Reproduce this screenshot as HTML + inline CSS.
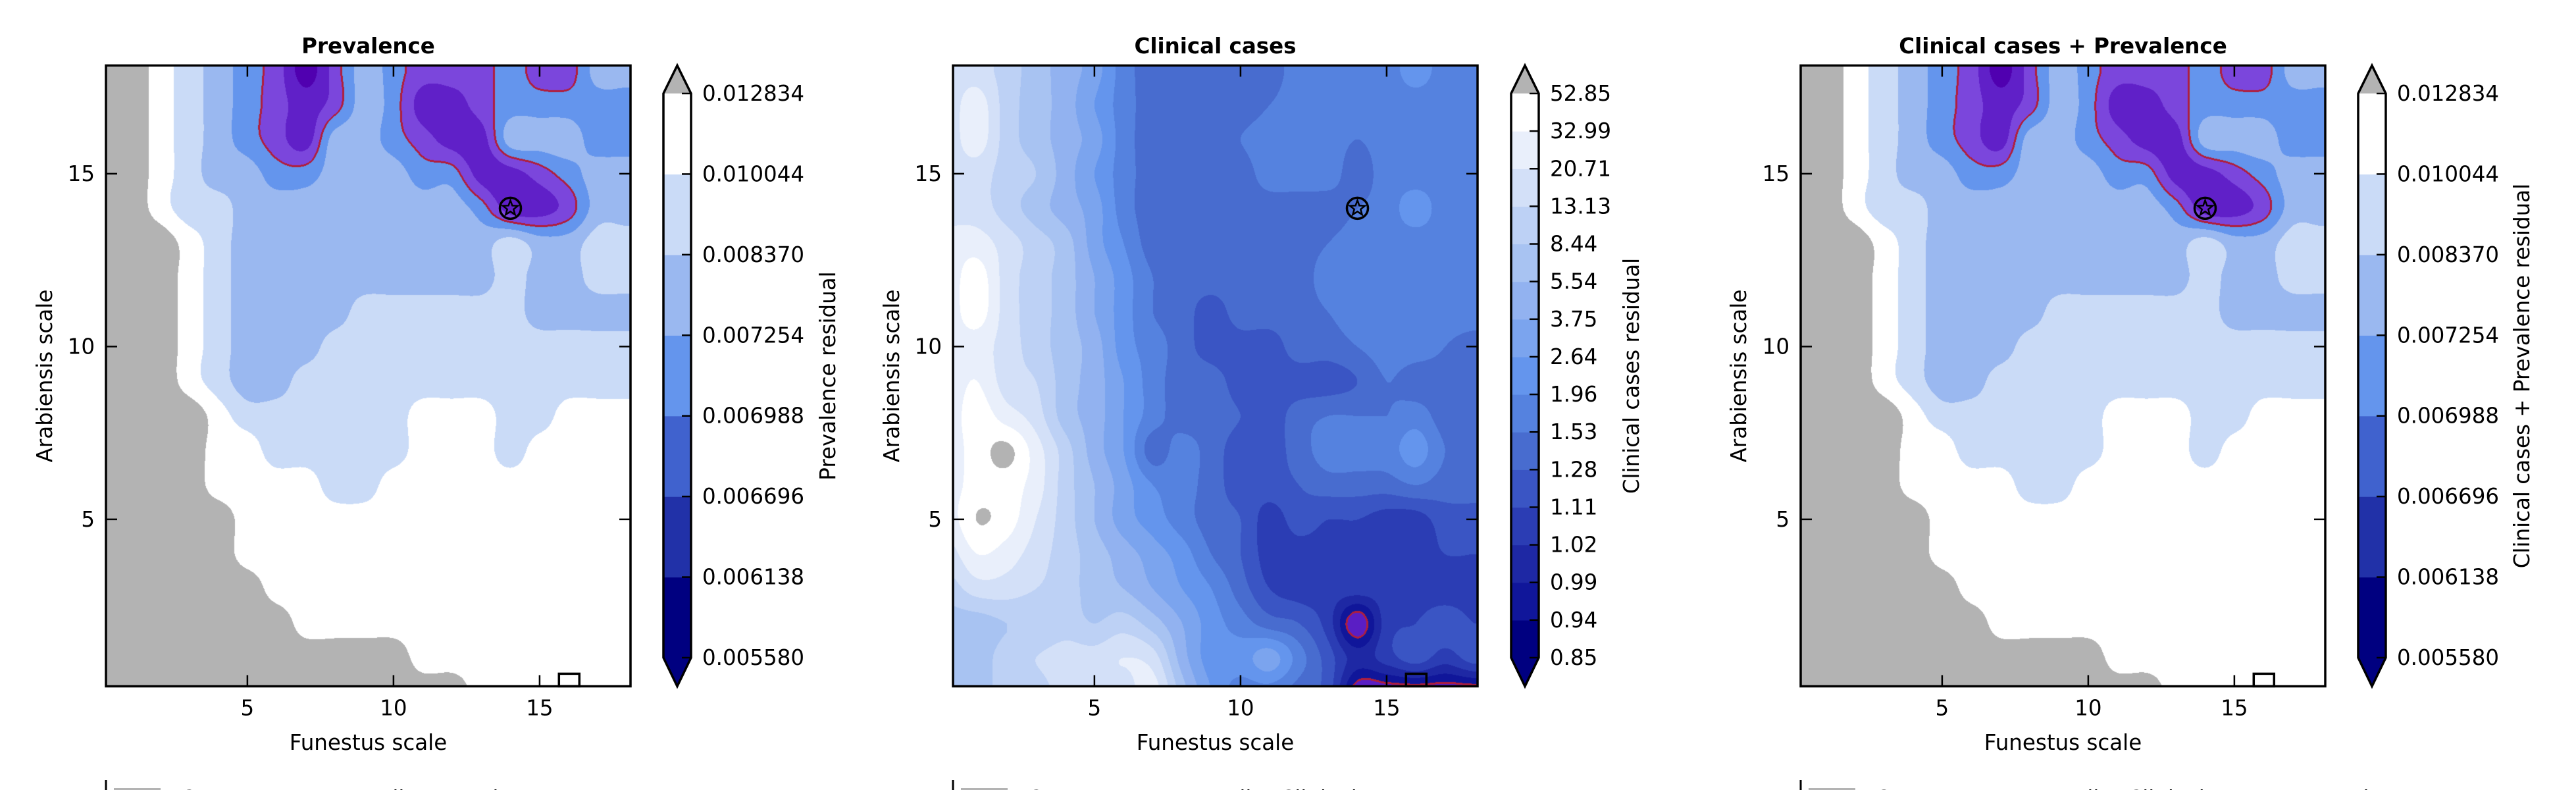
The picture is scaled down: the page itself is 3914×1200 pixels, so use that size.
<!DOCTYPE html>
<html><head><meta charset="utf-8"><style>
html,body{margin:0;padding:0;background:#fff;}
#wrap{position:relative;width:3914px;height:1200px;overflow:hidden;background:#fff;}
canvas{position:absolute;}
svg{position:absolute;left:0;top:0;}
</style></head><body>
<div id="wrap">
<svg id="ov" width="3914" height="1200"></svg>
</div>
<script>
// ---------- DATA ----------
const gridX = [0,1,2,3,4,5,6,7,8,9,10,11,12,13,14,15,16,17,18];
const gridY = [18,17,16,15,14,13,12,11,10,9,8,7,6,5,4,3,2,1,0];
const prevLevels = [0.00558,0.006138,0.006696,0.006988,0.007254,0.00837,0.010044,0.012834];
const prevTickLabels = ["0.005580","0.006138","0.006696","0.006988","0.007254","0.008370","0.010044","0.012834"];
const clinLevels = [0.85,0.94,0.99,1.02,1.11,1.28,1.53,1.96,2.64,3.75,5.54,8.44,13.13,20.71,32.99,52.85];
const clinTickLabels = ["0.85","0.94","0.99","1.02","1.11","1.28","1.53","1.96","2.64","3.75","5.54","8.44","13.13","20.71","32.99","52.85"];
const xTicks = [5,10,15];
const yTicks = [5,10,15];
const markerStar = [14,14];
const markerSquare = [16,0.3];

const prevGrid = [
[0.0148,0.0148,0.01144,0.00921,0.00781,0.00712,0.00684,0.00586,0.00684,0.00781,0.00712,0.00684,0.00684,0.00684,0.00712,0.00684,0.00684,0.00781,0.00781],
[0.0148,0.0148,0.01144,0.00921,0.00781,0.00712,0.00684,0.00642,0.00684,0.00781,0.00712,0.00642,0.00642,0.00684,0.00712,0.00712,0.00712,0.00712,0.00712],
[0.0148,0.0148,0.01144,0.00921,0.00781,0.00712,0.00684,0.00642,0.00781,0.00781,0.00712,0.00684,0.00642,0.00642,0.00781,0.00781,0.00781,0.00712,0.00712],
[0.0148,0.0148,0.01144,0.00921,0.00781,0.00781,0.00712,0.00712,0.00781,0.00781,0.00781,0.00712,0.00712,0.00642,0.00642,0.00684,0.00712,0.00781,0.00781],
[0.0148,0.0148,0.01144,0.00921,0.00921,0.00781,0.00781,0.00781,0.00781,0.00781,0.00781,0.00781,0.00781,0.00712,0.00642,0.00642,0.00684,0.00781,0.00781],
[0.0148,0.0148,0.0148,0.01144,0.00921,0.00781,0.00781,0.00781,0.00781,0.00781,0.00781,0.00781,0.00781,0.00781,0.00921,0.00781,0.00781,0.00921,0.00921],
[0.0148,0.0148,0.0148,0.01144,0.00921,0.00781,0.00781,0.00781,0.00781,0.00781,0.00781,0.00781,0.00781,0.00781,0.00921,0.00781,0.00781,0.00921,0.00921],
[0.0148,0.0148,0.0148,0.01144,0.00921,0.00781,0.00781,0.00781,0.00781,0.00921,0.00921,0.00921,0.00921,0.00921,0.00921,0.00781,0.00781,0.00781,0.00781],
[0.0148,0.0148,0.0148,0.01144,0.00921,0.00781,0.00781,0.00781,0.00921,0.00921,0.00921,0.00921,0.00921,0.00921,0.00921,0.00921,0.00921,0.00921,0.00921],
[0.0148,0.0148,0.0148,0.01144,0.00921,0.00781,0.00781,0.00921,0.00921,0.00921,0.00921,0.00921,0.00921,0.00921,0.00921,0.00921,0.00921,0.00921,0.00921],
[0.0148,0.0148,0.0148,0.0148,0.01144,0.00921,0.00921,0.00921,0.00921,0.00921,0.00921,0.01144,0.01144,0.01144,0.00921,0.00921,0.01144,0.01144,0.01144],
[0.0148,0.0148,0.0148,0.0148,0.01144,0.01144,0.00921,0.00921,0.00921,0.00921,0.00921,0.01144,0.01144,0.01144,0.00921,0.01144,0.01144,0.01144,0.01144],
[0.0148,0.0148,0.0148,0.0148,0.01144,0.01144,0.01144,0.01144,0.00921,0.00921,0.01144,0.01144,0.01144,0.01144,0.01144,0.01144,0.01144,0.01144,0.01144],
[0.0148,0.0148,0.0148,0.0148,0.0148,0.01144,0.01144,0.01144,0.01144,0.01144,0.01144,0.01144,0.01144,0.01144,0.01144,0.01144,0.01144,0.01144,0.01144],
[0.0148,0.0148,0.0148,0.0148,0.0148,0.01144,0.01144,0.01144,0.01144,0.01144,0.01144,0.01144,0.01144,0.01144,0.01144,0.01144,0.01144,0.01144,0.01144],
[0.0148,0.0148,0.0148,0.0148,0.0148,0.0148,0.01144,0.01144,0.01144,0.01144,0.01144,0.01144,0.01144,0.01144,0.01144,0.01144,0.01144,0.01144,0.01144],
[0.0148,0.0148,0.0148,0.0148,0.0148,0.0148,0.0148,0.01144,0.01144,0.01144,0.01144,0.01144,0.01144,0.01144,0.01144,0.01144,0.01144,0.01144,0.01144],
[0.0148,0.0148,0.0148,0.0148,0.0148,0.0148,0.0148,0.0148,0.0148,0.0148,0.0148,0.01144,0.01144,0.01144,0.01144,0.01144,0.01144,0.01144,0.01144],
[0.0148,0.0148,0.0148,0.0148,0.0148,0.0148,0.0148,0.0148,0.0148,0.0148,0.0148,0.0148,0.0148,0.01144,0.01144,0.01144,0.01144,0.01144,0.01144]
];

const comboGrid = [
[0.0148,0.0148,0.01144,0.00921,0.00781,0.00712,0.00684,0.00586,0.00684,0.00781,0.00712,0.00684,0.00684,0.00684,0.00712,0.00684,0.00684,0.00781,0.00781],
[0.0148,0.0148,0.01144,0.00921,0.00781,0.00712,0.00684,0.00642,0.00684,0.00781,0.00712,0.00642,0.00642,0.00684,0.00712,0.00712,0.00712,0.00712,0.00712],
[0.0148,0.0148,0.01144,0.00921,0.00781,0.00712,0.00684,0.00642,0.00781,0.00781,0.00712,0.00684,0.00642,0.00642,0.00781,0.00781,0.00781,0.00712,0.00712],
[0.0148,0.0148,0.01144,0.00921,0.00781,0.00781,0.00712,0.00712,0.00781,0.00781,0.00781,0.00712,0.00712,0.00642,0.00642,0.00684,0.00712,0.00781,0.00781],
[0.0148,0.0148,0.01144,0.00921,0.00921,0.00781,0.00781,0.00781,0.00781,0.00781,0.00781,0.00781,0.00781,0.00712,0.00642,0.00642,0.00684,0.00781,0.00781],
[0.0148,0.0148,0.0148,0.01144,0.00921,0.00781,0.00781,0.00781,0.00781,0.00781,0.00781,0.00781,0.00781,0.00781,0.00921,0.00781,0.00781,0.00921,0.00921],
[0.0148,0.0148,0.0148,0.01144,0.00921,0.00781,0.00781,0.00781,0.00781,0.00781,0.00781,0.00781,0.00781,0.00781,0.00921,0.00781,0.00781,0.00921,0.00921],
[0.0148,0.0148,0.0148,0.01144,0.00921,0.00781,0.00781,0.00781,0.00781,0.00921,0.00921,0.00921,0.00921,0.00921,0.00921,0.00781,0.00781,0.00781,0.00781],
[0.0148,0.0148,0.0148,0.01144,0.00921,0.00781,0.00781,0.00781,0.00921,0.00921,0.00921,0.00921,0.00921,0.00921,0.00921,0.00921,0.00921,0.00921,0.00921],
[0.0148,0.0148,0.0148,0.01144,0.00921,0.00781,0.00781,0.00921,0.00921,0.00921,0.00921,0.00921,0.00921,0.00921,0.00921,0.00921,0.00921,0.00921,0.00921],
[0.0148,0.0148,0.0148,0.0148,0.01144,0.00921,0.00921,0.00921,0.00921,0.00921,0.00921,0.01144,0.01144,0.01144,0.00921,0.00921,0.01144,0.01144,0.01144],
[0.0148,0.0148,0.0148,0.0148,0.01144,0.01144,0.00921,0.00921,0.00921,0.00921,0.00921,0.01144,0.01144,0.01144,0.00921,0.01144,0.01144,0.01144,0.01144],
[0.0148,0.0148,0.0148,0.0148,0.01144,0.01144,0.01144,0.01144,0.00921,0.00921,0.01144,0.01144,0.01144,0.01144,0.01144,0.01144,0.01144,0.01144,0.01144],
[0.0148,0.0148,0.0148,0.0148,0.0148,0.01144,0.01144,0.01144,0.01144,0.01144,0.01144,0.01144,0.01144,0.01144,0.01144,0.01144,0.01144,0.01144,0.01144],
[0.0148,0.0148,0.0148,0.0148,0.0148,0.01144,0.01144,0.01144,0.01144,0.01144,0.01144,0.01144,0.01144,0.01144,0.01144,0.01144,0.01144,0.01144,0.01144],
[0.0148,0.0148,0.0148,0.0148,0.0148,0.0148,0.01144,0.01144,0.01144,0.01144,0.01144,0.01144,0.01144,0.01144,0.01144,0.01144,0.01144,0.01144,0.01144],
[0.0148,0.0148,0.0148,0.0148,0.0148,0.0148,0.0148,0.01144,0.01144,0.01144,0.01144,0.01144,0.01144,0.01144,0.01144,0.01144,0.01144,0.01144,0.01144],
[0.0148,0.0148,0.0148,0.0148,0.0148,0.0148,0.0148,0.0148,0.0148,0.0148,0.0148,0.01144,0.01144,0.01144,0.01144,0.01144,0.01144,0.01144,0.01144],
[0.0148,0.0148,0.0148,0.0148,0.0148,0.0148,0.0148,0.0148,0.0148,0.0148,0.0148,0.0148,0.0148,0.01144,0.01144,0.01144,0.01144,0.01144,0.01144]
];

const clinGrid = [
[16.92,16.92,10.79,6.99,4.645,3.195,1.745,1.405,1.405,1.405,1.405,1.405,1.745,1.745,1.745,1.745,2.30,1.745,1.745],
[16.92,26.85,10.79,6.99,4.645,2.64,1.745,1.405,1.405,1.405,1.405,1.53,1.745,1.745,1.745,1.745,1.745,1.745,1.745],
[16.92,26.85,10.79,6.99,4.645,3.195,1.745,1.405,1.405,1.405,1.53,1.745,1.745,1.745,1.53,1.745,1.745,1.745,1.745],
[16.92,16.92,10.79,8.44,4.645,2.64,1.745,1.405,1.405,1.405,1.405,1.745,1.745,1.745,1.405,1.745,1.745,1.745,1.745],
[16.92,16.92,10.79,6.99,4.645,3.195,1.745,1.405,1.405,1.405,1.405,1.405,1.405,1.405,1.53,1.745,2.30,1.745,1.745],
[26.85,26.85,16.92,10.79,6.99,3.195,1.96,1.405,1.405,1.405,1.405,1.405,1.405,1.53,1.745,1.745,1.745,1.745,1.745],
[26.85,42.92,16.92,10.79,6.99,3.75,2.30,1.53,1.405,1.405,1.405,1.405,1.405,1.745,1.745,1.745,1.745,1.745,1.745],
[26.85,42.92,16.92,10.79,6.99,3.75,2.30,1.53,1.405,1.195,1.405,1.405,1.405,1.53,1.745,1.745,1.745,1.745,1.745],
[26.85,26.85,16.92,10.79,6.99,4.645,2.30,1.745,1.405,1.195,1.195,1.195,1.405,1.405,1.53,1.745,1.745,1.53,1.405],
[26.85,32.99,16.92,13.13,6.99,4.645,2.64,1.745,1.405,1.405,1.195,1.195,1.195,1.195,1.28,1.53,1.405,1.405,1.28],
[26.85,42.92,26.85,16.92,6.99,4.645,2.64,1.745,1.405,1.405,1.28,1.195,1.405,1.53,1.53,1.53,1.745,1.405,1.405],
[26.85,42.92,58.0,26.85,10.79,4.645,2.64,1.405,1.745,1.405,1.195,1.195,1.405,1.745,1.745,1.745,2.30,1.53,1.405],
[26.85,42.92,42.92,26.85,10.79,5.54,3.195,1.96,1.745,1.405,1.195,1.195,1.28,1.405,1.405,1.405,1.53,1.405,1.405],
[26.85,53.5,42.92,20.71,10.79,5.54,3.195,2.30,1.745,1.405,1.28,1.065,1.195,1.11,1.11,1.065,1.065,1.195,1.195],
[16.92,32.99,26.85,16.92,10.79,6.99,4.645,3.195,2.30,1.53,1.28,1.065,1.065,1.065,1.065,1.065,1.065,1.11,1.11],
[10.79,16.92,16.92,13.13,10.79,6.99,5.54,3.75,2.64,1.96,1.405,1.11,1.065,1.065,1.065,1.065,1.065,1.065,1.065],
[6.99,6.99,8.44,8.44,10.79,8.44,10.79,6.99,3.75,2.30,1.745,1.405,1.28,1.065,0.87,1.065,1.11,1.195,1.11],
[6.99,6.99,10.79,13.13,16.92,16.92,20.71,16.92,4.645,2.30,2.30,3.195,1.745,1.195,1.005,1.065,1.195,1.065,1.195],
[6.99,6.99,10.79,10.79,16.92,20.71,16.92,26.85,6.99,2.64,1.745,1.745,1.405,1.195,0.877,0.877,0.877,0.877,0.877]
];

// ---------- STYLE / LAYOUT ----------
const prevColors = ['#000080','#2131A8','#4062CE','#6495ED','#9AB8F0','#CADBF7','#FFFFFF'];
const prevMapColors = ['#5000B0','#6020C8','#7B46DC','#6495ED','#9AB8F0','#CADBF7','#FFFFFF'];
const clinColors = ['#000080','#10169A','#1E28A4','#2B3DB4','#3A55C4','#486CCF','#5582DF','#6495ED','#7BA4EE','#92B2F0','#A8C3F2','#BDD1F5','#D3E0F8','#E9EFFB','#FFFFFF'];
const clinMapColors = ['#5A1EC4','#10169A','#1E28A4','#2B3DB4','#3A55C4','#486CCF','#5582DF','#6495ED','#7BA4EE','#92B2F0','#A8C3F2','#BDD1F5','#D3E0F8','#E9EFFB','#FFFFFF'];
const NS='http://www.w3.org/2000/svg';
const FONT='"DejaVu Sans","Liberation Sans",sans-serif';
const XMIN=0.16, XMAX=18.1, YMIN=0.17, YMAX=18.13, SX=44.4, SY=52.5, TOP=99.5;
const AW=Math.round((XMAX-XMIN)*SX), AH=Math.round((YMAX-YMIN)*SY);
const ov=document.getElementById('ov');
const wrap=document.getElementById('wrap');

function toIdx(v,L){
  const n=L.length;
  if(v<L[0]) return (v-L[0])/(L[1]-L[0]);
  for(let i=0;i<n-1;i++){ if(v<L[i+1]) return i+(v-L[i])/(L[i+1]-L[i]); }
  return n-1+(v-L[n-1])/(L[n-1]-L[n-2]);
}
function mk(tag,parent,attrs){const e=document.createElementNS(NS,tag);for(const k in attrs)e.setAttribute(k,attrs[k]);parent.appendChild(e);return e;}
function cr(p0,p1,p2,p3,t){
  return p1+0.5*t*(p2-p0+t*(2*p0-5*p1+4*p2-p3+t*(3*(p1-p2)+p3-p0)));
}

function drawPanel(p){
  const left=p.left;
  const xs=x=>left+(x-XMIN)*SX;
  const ys=y=>TOP+(YMAX-y)*SY;
  const cv=document.createElement('canvas');
  
  
  cv.width=AW; cv.height=AH;
  cv.style.left=left+'px'; cv.style.top=TOP+'px';
  wrap.insertBefore(cv, ov);
  const ctx=cv.getContext('2d');
  const img=ctx.createImageData(AW,AH);
  const G=p.grid.map(r=>r.map(v=>toIdx(v,p.levels)));
  const nb=p.levels.length-1;
  const idxBuf=new Float32Array(AW*AH);
  const rows=gridY.length, cols=gridX.length;
  const gv=(r,c)=>G[Math.max(0,Math.min(rows-1,r))][Math.max(0,Math.min(cols-1,c))];
  for(let py=0;py<AH;py++){
    const y=YMAX-(py+0.5)/SY;
    let gr=(gridY[0]-y); gr=Math.max(0,Math.min(rows-1.0001,gr));
    const r0=Math.floor(gr), fr=gr-r0;
    for(let px=0;px<AW;px++){
      const x=XMIN+(px+0.5)/SX;
      let gc=x-gridX[0]; gc=Math.max(0,Math.min(cols-1.0001,gc));
      const c0=Math.floor(gc), fc=gc-c0;
      const rv=[];
      for(let k=-1;k<=2;k++){
        rv.push(cr(gv(r0+k,c0-1),gv(r0+k,c0),gv(r0+k,c0+1),gv(r0+k,c0+2),fc));
      }
      let v=cr(rv[0],rv[1],rv[2],rv[3],fr);
      const a=gv(r0,c0),b=gv(r0,c0+1),c=gv(r0+1,c0),d=gv(r0+1,c0+1);
      const mn=Math.min(a,b,c,d), mx=Math.max(a,b,c,d);
      if(v<mn)v=mn; if(v>mx)v=mx;
      idxBuf[py*AW+px]=v;
    }
  }
  const hex=h=>[parseInt(h.substr(1,2),16),parseInt(h.substr(3,2),16),parseInt(h.substr(5,2),16)];
  const cols2=p.mapColors.map(hex);
  const gray=hex('#B3B3B3'), low=hex(p.lowColor), red=hex('#B01E3C');
  const T=p.redThr;
  const nbrs=[[1,0],[0,1],[-1,0],[0,-1],[2,0],[0,2]];
  for(let py=0;py<AH;py++){
    for(let px=0;px<AW;px++){
      const i=py*AW+px, v=idxBuf[i];
      let c;
      if(v>=nb) c=gray; else if(v<0) c=low; else c=cols2[Math.floor(v)];
      const b=v<T;
      let edge=false;
      for(const [dx,dy] of nbrs){
        const qx=px+dx, qy=py+dy;
        if(qx<0||qy<0||qx>=AW||qy>=AH) continue;
        if((idxBuf[qy*AW+qx]<T)!==b){edge=true;break;}
      }
      if(edge) c=red;
      img.data[i*4]=c[0];img.data[i*4+1]=c[1];img.data[i*4+2]=c[2];img.data[i*4+3]=255;
    }
  }
  ctx.putImageData(img,0,0);

  const g=mk('g',ov,{});
  
  
  const sx=xs(markerStar[0]), sy=ys(markerStar[1]);
  const circ=mk('circle',g,{cx:sx,cy:sy,r:16,fill:'none',stroke:'#000','stroke-width':3.5});
  
  
  let pts=[];
  for(let k=0;k<10;k++){const a=-Math.PI/2+k*Math.PI/5, r=k%2?5:12;pts.push((sx+r*Math.cos(a)).toFixed(1)+','+(sy+r*Math.sin(a)).toFixed(1));}
  const star=mk('polygon',g,{points:pts.join(' '),fill:'none',stroke:'#000','stroke-width':2.5});
  
  
  const sq=mk('rect',g,{x:xs(markerSquare[0])-15,y:ys(YMIN)-19,width:31,height:19,fill:'none',stroke:'#000','stroke-width':3.5});
  
  
  const frame=mk('rect',g,{x:left,y:TOP,width:AW,height:AH,fill:'none',stroke:'#000','stroke-width':3.5});
  
  
  for(const t of xTicks){
    const X=xs(t);
    const tk=mk('path',g,{d:`M${X},${TOP+AH}v-17M${X},${TOP}v17`,stroke:'#000','stroke-width':2.5});
    
    
    const tl=mk('text',g,{x:X,y:TOP+AH+44,'text-anchor':'middle','font-size':32.5,'font-family':FONT});
    tl.textContent=String(t);
    
    
  }
  for(const t of yTicks){
    const Y=ys(t);
    const tk=mk('path',g,{d:`M${left},${Y}h17M${left+AW},${Y}h-17`,stroke:'#000','stroke-width':2.5});
    
    
    const tl=mk('text',g,{x:left-17,y:Y+11,'text-anchor':'end','font-size':32.5,'font-family':FONT});
    tl.textContent=String(t);
    
    
  }
  const ttl=mk('text',g,{x:left+AW/2,y:81,'text-anchor':'middle','font-size':32.5,'font-weight':'bold','font-family':FONT});
  ttl.textContent=p.title;
  
  
  const xl=mk('text',g,{x:left+AW/2,y:1139,'text-anchor':'middle','font-size':32.5,'font-family':FONT});
  xl.textContent='Funestus scale';
  
  
  const yl=mk('text',g,{x:0,y:0,'text-anchor':'middle','font-size':32.5,'font-family':FONT,transform:`translate(${p.ylabX+11},571) rotate(-90)`});
  yl.textContent='Arabiensis scale';
  
  

  const cb=mk('g',g,{});
  
  
  const cx0=p.cbX, cw=42, ct=142, cbot=999, n=p.levels.length-1, bh=(cbot-ct)/n;
  for(let i=0;i<n;i++){
    const r=mk('rect',cb,{x:cx0,y:cbot-(i+1)*bh,width:cw,height:bh+0.6,fill:p.cbColors[i]});
    
    
  }
  const tri1=mk('polygon',cb,{points:`${cx0},${ct} ${cx0+cw/2},${TOP} ${cx0+cw},${ct}`,fill:'#B3B3B3'});
  
  
  const tri2=mk('polygon',cb,{points:`${cx0},${cbot} ${cx0+cw/2},${TOP+AH} ${cx0+cw},${cbot}`,fill:'#000080'});
  
  
  const ol=mk('polygon',cb,{points:`${cx0},${ct} ${cx0+cw/2},${TOP} ${cx0+cw},${ct} ${cx0+cw},${cbot} ${cx0+cw/2},${TOP+AH} ${cx0},${cbot}`,fill:'none',stroke:'#000','stroke-width':3.5});
  
  
  for(let i=0;i<=n;i++){
    const Y=cbot-i*bh;
    const tk=mk('path',cb,{d:`M${cx0+cw},${Y}h-14`,stroke:'#000','stroke-width':2.5});
    
    
    const tl=mk('text',cb,{x:cx0+cw+17,y:Y+11,'font-size':32.5,'font-family':FONT});
    tl.textContent=p.tickLabels[i];
    
    
  }
  const cl=mk('text',cb,{x:0,y:0,'text-anchor':'middle','font-size':32.5,'font-family':FONT,transform:`translate(${p.cbLabX+11},571) rotate(-90)`});
  cl.textContent=p.cbLabel;
  
  

  const lg=mk('g',g,{});
  
  
  mk('path',lg,{d:`M${left},1185V1200`,stroke:'#000','stroke-width':3});
  mk('rect',lg,{x:left+12,y:1197,width:71,height:6,fill:'#B3B3B3'});
  const lt=mk('text',lg,{x:left+113,y:1224,'font-size':32.5,'font-family':FONT});
  lt.textContent=p.legend;
  
  
}

drawPanel({key:'prevalence',left:161,grid:prevGrid,levels:prevLevels,tickLabels:prevTickLabels,mapColors:prevMapColors,cbColors:prevColors,lowColor:'#4800A8',redThr:3,title:'Prevalence',ylabX:68,cbX:1008,cbLabX:1258,cbLabel:'Prevalence residual',legend:'Cut-Funestus-mortality-Prevalence'});
drawPanel({key:'clinical',left:1448,grid:clinGrid,levels:clinLevels,tickLabels:clinTickLabels,mapColors:clinMapColors,cbColors:clinColors,lowColor:'#4800A8',redThr:1,title:'Clinical cases',ylabX:1355,cbX:2296,cbLabX:2479,cbLabel:'Clinical cases residual',legend:'Cut-Funestus-mortality-Clinical cases'});
drawPanel({key:'combined',left:2736,grid:comboGrid,levels:prevLevels,tickLabels:prevTickLabels,mapColors:prevMapColors,cbColors:prevColors,lowColor:'#4800A8',redThr:3,title:'Clinical cases + Prevalence',ylabX:2642,cbX:3583,cbLabX:3832,cbLabel:'Clinical cases + Prevalence residual',legend:'Cut-Funestus-mortality-Clinical cases + Prevalence'});
</script>
</body></html>
